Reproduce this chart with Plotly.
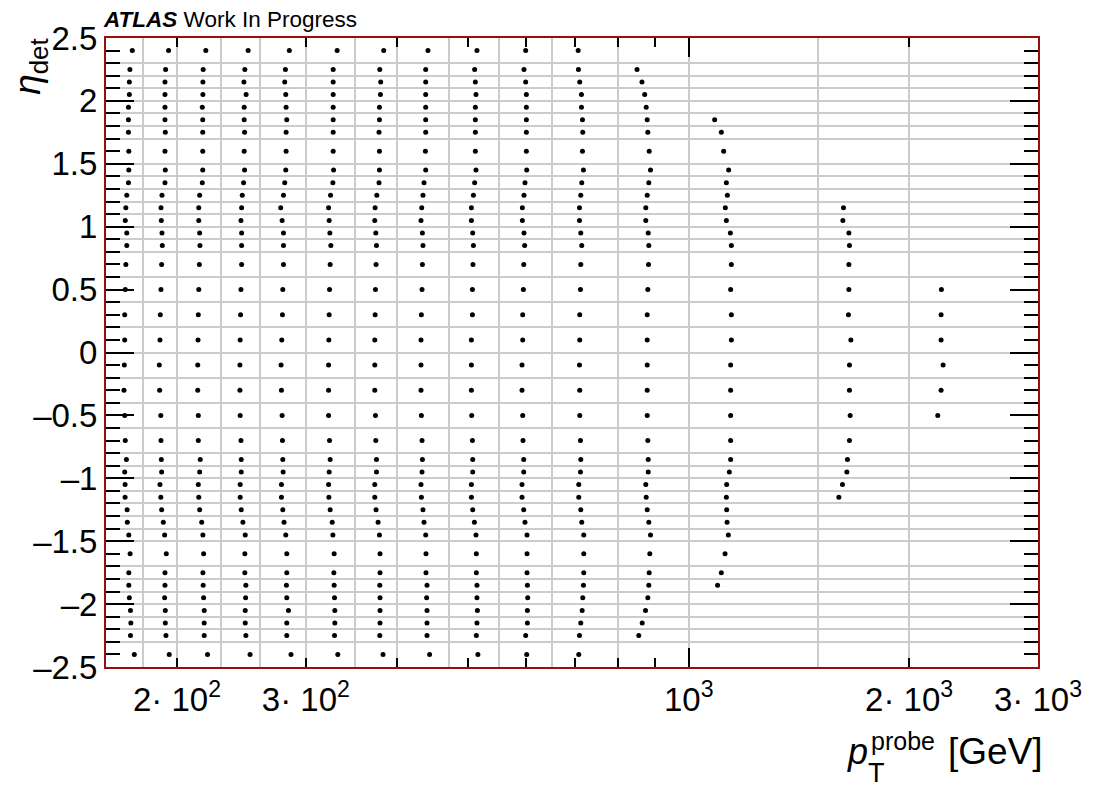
import math
import plotly.graph_objects as go

# ---------------- data ----------------
pt_edges = [160, 180, 200, 230, 260, 300, 350, 400, 470, 550, 650, 800, 1000, 1500, 2000, 3000]
eta_edges = [-2.5, -2.3, -2.2, -2.1, -2.0, -1.9, -1.8, -1.7, -1.5, -1.4, -1.3, -1.2, -1.1, -1.0,
             -0.9, -0.8, -0.6, -0.4, -0.2, 0.0, 0.2, 0.4, 0.6, 0.8, 0.9, 1.0, 1.1, 1.2, 1.3,
             1.4, 1.5, 1.7, 1.8, 1.9, 2.0, 2.1, 2.2, 2.3, 2.5]

eta_centers = [2.4, 2.25, 2.15, 2.05, 1.95, 1.85, 1.75, 1.6, 1.45, 1.35, 1.25, 1.15, 1.05, 0.95,
               0.85, 0.7, 0.5, 0.3, 0.1, -0.1, -0.3, -0.5, -0.7, -0.85, -0.95, -1.05, -1.15,
               -1.25, -1.35, -1.45, -1.6, -1.75, -1.85, -1.95, -2.05, -2.15, -2.25, -2.4]

N = None
pt_160_180 = [173.8, 172.5, 172.2, 172.2, 171.7, 171.7, 171.7, 171.9, 171.9, 171.7, 170.8, 170.3, 170.0,
              170.8, 170.8, 170.3, 170.0, 169.7, 169.7, 169.5, 169.3, 169.7, 170.0, 170.6, 169.7, 169.9,
              169.9, 171.0, 171.1, 171.9, 172.6, 171.9, 171.9, 172.2, 172.8, 173.0, 172.8, 174.9]
pt_180_200 = [194.8, 193.0, 192.6, 192.6, 192.6, 192.6, 192.8, 192.6, 192.8, 192.6, 190.8, 190.2, 190.4,
              190.8, 191.0, 190.6, 190.2, 189.8, 189.6, 189.2, 189.4, 190.1, 190.2, 190.4, 190.6, 189.6,
              190.1, 190.6, 191.6, 192.4, 193.4, 192.6, 192.6, 192.4, 192.8, 192.8, 193.2, 195.2]
pt_200_230 = [219.0, 217.2, 217.0, 217.0, 216.6, 216.9, 216.9, 216.9, 216.9, 216.6, 214.8, 214.2, 214.2,
              214.8, 215.0, 214.6, 214.2, 213.9, 213.7, 213.5, 213.5, 213.9, 213.9, 215.2, 214.8, 213.9,
              214.2, 214.8, 216.2, 217.0, 217.5, 217.0, 217.2, 217.5, 217.9, 217.9, 217.9, 220.2]
pt_230_260 = [250.2, 247.6, 246.9, 248.6, 247.1, 247.1, 247.4, 247.1, 247.4, 246.6, 245.6, 245.1, 244.6,
              245.1, 245.1, 245.1, 244.6, 244.3, 244.0, 243.8, 243.8, 244.0, 244.6, 244.8, 244.8, 244.0,
              244.0, 244.8, 246.1, 247.9, 247.6, 247.6, 248.4, 248.2, 247.9, 247.9, 248.4, 251.7]
pt_260_300 = [284.8, 281.3, 280.7, 281.6, 281.9, 282.5, 281.9, 281.9, 281.6, 280.7, 279.6, 277.2, 278.4,
              279.6, 279.6, 279.6, 279.0, 278.7, 278.1, 277.5, 277.8, 278.4, 278.7, 279.0, 279.3, 277.8,
              277.8, 279.0, 280.1, 281.6, 282.5, 282.5, 282.2, 282.5, 284.0, 282.5, 282.5, 286.3]
pt_300_350 = [331.0, 326.9, 326.9, 326.9, 326.9, 326.9, 326.9, 326.9, 327.3, 326.6, 324.2, 322.2, 322.8,
              323.5, 324.5, 323.8, 323.2, 322.8, 322.5, 322.2, 322.2, 322.2, 323.2, 323.8, 322.8, 322.2,
              322.5, 323.8, 325.9, 326.6, 327.9, 327.6, 327.9, 328.3, 328.6, 328.6, 328.3, 331.7]
pt_350_400 = [383.2, 378.5, 379.6, 379.3, 378.1, 378.1, 377.6, 378.1, 378.1, 377.6, 375.0, 373.0, 372.6,
              373.8, 374.6, 374.1, 373.4, 373.0, 372.6, 372.6, 372.6, 373.4, 373.8, 374.6, 374.6, 372.6,
              372.6, 374.1, 376.5, 378.1, 378.8, 378.8, 378.5, 378.8, 378.8, 378.8, 378.5, 382.4]
pt_400_470 = [440.4, 437.3, 437.3, 437.3, 437.3, 437.3, 437.3, 436.9, 437.3, 435.0, 433.6, 431.9, 430.9,
              432.8, 433.6, 432.8, 432.3, 431.4, 430.9, 430.9, 430.9, 431.4, 432.3, 432.8, 432.3, 430.9,
              431.4, 433.6, 435.0, 437.3, 437.7, 437.7, 439.1, 438.6, 439.1, 439.1, 439.1, 442.7]
pt_470_550 = [513.8, 510.1, 511.2, 512.2, 511.2, 511.2, 511.2, 511.2, 512.2, 510.1, 508.1, 504.9, 504.9,
              507.0, 508.1, 507.4, 506.5, 506.5, 504.9, 504.9, 504.9, 505.4, 506.5, 507.0, 507.0, 504.9,
              504.9, 507.0, 509.7, 512.2, 512.8, 512.8, 513.8, 513.8, 514.5, 513.8, 512.8, 515.3]
pt_550_650 = [598.9, 595.7, 598.9, 600.2, 600.2, 600.2, 600.2, 600.2, 600.8, 597.6, 595.7, 592.7, 592.7,
              595.7, 597.0, 595.2, 594.6, 593.3, 593.3, 592.0, 592.0, 593.3, 593.9, 595.2, 595.2, 592.0,
              592.0, 595.2, 597.6, 601.4, 601.4, 601.4, 602.1, 602.7, 602.1, 602.1, 598.9, 600.8]
pt_650_800 = [706.4, 707.0, 709.9, 713.7, 713.7, 716.0, 716.7, 716.0, 718.2, 714.4, 712.2, 709.3, 709.3,
              712.2, 714.4, 712.2, 711.5, 709.9, 709.9, 709.3, 709.9, 709.9, 711.5, 712.2, 711.5, 707.7,
              707.7, 712.2, 714.4, 718.9, 718.9, 718.9, 718.2, 716.7, 715.3, 712.2, 709.3, 707.7]
pt_800_1000 = [N, 850.1, 863.4, 870.8, 874.9, 877.7, 879.4, 883.2, 886.8, 882.1, 877.7, 873.8, 873.8,
               880.5, 882.1, 881.3, 879.4, 877.7, 877.7, 877.7, 877.7, 877.7, 879.4, 880.5, 880.5, 873.8,
               874.9, 877.7, 882.1, 886.8, 884.9, 883.2, 882.1, 879.4, 873.0, 864.0, 854.7, N]
pt_1000_1500 = [N, N, N, N, N, 1085.1, 1108.1, 1116.2, 1133.9, 1125.8, 1129.3, 1122.2, 1125.8,
                1140.0, 1143.6, 1143.6, 1141.0, 1143.6, 1143.6, 1141.0, 1141.0, 1141.0, 1141.0, 1141.0,
                1136.4, 1126.9, 1125.8, 1126.9, 1128.3, 1132.9, 1121.2, 1108.1, 1095.1, N, N, N, N, N]
pt_1500_2000 = [N, N, N, N, N, N, N, N, N, N, N, 1627.1, 1624.0, 1654.9, 1658.0, 1654.9, 1654.9,
                1652.8, 1665.3, 1658.0, 1658.0, 1661.7, 1658.0, 1647.6, 1644.5, 1621.9, 1603.7,
                N, N, N, N, N, N, N, N, N, N, N]
pt_2000_3000 = [N, N, N, N, N, N, N, N, N, N, N, N, N, N, N, N, 2213.9, 2211.8, 2211.8, 2225.8,
                2211.8, 2188.8, N, N, N, N, N, N, N, N, N, N, N, N, N, N, N, N]

columns = [pt_160_180, pt_180_200, pt_200_230, pt_230_260, pt_260_300, pt_300_350, pt_350_400,
           pt_400_470, pt_470_550, pt_550_650, pt_650_800, pt_800_1000, pt_1000_1500,
           pt_1500_2000, pt_2000_3000]

x_tickvals = [200, 300, 1000, 2000, 3000]
x_ticktext = ["2\u00b7 10<sup>2</sup>", "3\u00b7 10<sup>2</sup>", "10<sup>3</sup>",
              "2\u00b7 10<sup>3</sup>", "3\u00b7 10<sup>3</sup>"]
x_minor_tickvals = [400, 500, 600, 700, 800, 900]
x_long_ticks = [1000]
y_tickvals = [-2.5, -2.0, -1.5, -1.0, -0.5, 0.0, 0.5, 1.0, 1.5, 2.0, 2.5]
y_ticktext = ["\u20132.5", "\u20132", "\u20131.5", "\u20131", "\u20130.5", "0", "0.5", "1", "1.5", "2", "2.5"]

# ---------------- figure ----------------
OFF = 8                      # page body margin of the html page
W, H = 1094 - OFF, 787 - OFF
L, R, T, B = 106, 1038, 35, 667   # frame position on screen
FONT = "Liberation Sans, Arial, Helvetica, sans-serif"
FRAME = "#9a0d0d"


def px(xp):
    return (xp - L) / (R - L)


def py(yp):
    return (B - yp) / (B - T)


xs, ys = [], []
for col in columns:
    for eta, pt in zip(eta_centers, col):
        if pt is not None:
            xs.append(pt)
            ys.append(eta)

xr = [math.log10(pt_edges[0]), math.log10(pt_edges[-1])]
yr = [eta_edges[0], eta_edges[-1]]

fig = go.Figure()
fig.add_trace(go.Scatter(x=xs, y=ys, mode="markers",
                         marker=dict(color="black", size=5, line=dict(width=0)),
                         showlegend=False, hoverinfo="x+y"))
fig.add_trace(go.Scatter(x=[], y=[], xaxis="x2", yaxis="y2", showlegend=False))
fig.add_trace(go.Scatter(x=[], y=[], xaxis="x3", yaxis="y2", showlegend=False))

grid_style = dict(showgrid=True, gridcolor="#cccccc", gridwidth=2, ticks="",
                  showticklabels=False, showline=False, zeroline=False, tickmode="array")
tick_font = dict(family=FONT, size=33, color="black")

fig.update_layout(
    width=W, height=H,
    margin=dict(l=L - OFF, r=W + OFF - R, t=T - OFF, b=H + OFF - B, pad=0),
    paper_bgcolor="white", plot_bgcolor="white",
    xaxis=dict(type="log", range=xr, tickvals=pt_edges, **grid_style),
    yaxis=dict(range=yr, tickvals=eta_edges, **grid_style),
    xaxis2=dict(type="log", range=xr, overlaying="x", anchor="y2", side="bottom",
                tickmode="array", tickvals=x_tickvals, ticktext=x_ticktext,
                ticks="inside", ticklen=9, tickwidth=1.5, tickcolor="black",
                minor=dict(tickmode="array", tickvals=x_minor_tickvals, ticks="inside",
                           ticklen=9, tickwidth=1.5, tickcolor="black", showgrid=False),
                showline=True, linecolor=FRAME, linewidth=2, mirror="ticks",
                showgrid=False, zeroline=False, tickfont=tick_font, ticklabelstandoff=2),
    xaxis3=dict(type="log", range=xr, overlaying="x", anchor="y2", side="bottom",
                tickmode="array", tickvals=x_long_ticks, showticklabels=False,
                ticks="inside", ticklen=19, tickwidth=1.5, tickcolor="black",
                showline=True, linecolor=FRAME, linewidth=2, mirror="ticks",
                showgrid=False, zeroline=False),
    yaxis2=dict(range=yr, overlaying="y", anchor="x2", side="left",
                tickmode="array", tickvals=y_tickvals, ticktext=y_ticktext,
                ticks="inside", ticklen=28, tickwidth=1.5, tickcolor="black",
                minor=dict(dtick=0.1, tick0=0, ticks="inside", ticklen=14, tickwidth=1.5,
                           tickcolor="black", showgrid=False),
                showline=True, linecolor=FRAME, linewidth=2, mirror="ticks",
                showgrid=False, zeroline=False, tickfont=tick_font),
    annotations=[
        dict(xref="paper", yref="paper", x=px(102), y=py(35), xanchor="left", yanchor="bottom",
             yshift=5, borderpad=0, text="<b><i>ATLAS</i></b> Work In Progress", showarrow=False,
             font=dict(family=FONT, size=22.5, color="black")),
        dict(xref="paper", yref="paper", x=px(30), y=py(64), xanchor="center", yanchor="middle",
             text="<i>\u03b7</i><sub>det</sub>", textangle=-90, showarrow=False,
             font=dict(family=FONT, size=37, color="black")),
        dict(xref="paper", yref="paper", x=px(857), y=py(752), xanchor="center", yanchor="middle",
             text="<i>p</i>", showarrow=False, font=dict(family=FONT, size=36, color="black")),
        dict(xref="paper", yref="paper", x=px(903), y=py(741), xanchor="center", yanchor="middle",
             text="probe", showarrow=False, font=dict(family=FONT, size=25, color="black")),
        dict(xref="paper", yref="paper", x=px(876), y=py(774), xanchor="center", yanchor="middle",
             text="T", showarrow=False, font=dict(family=FONT, size=27, color="black")),
        dict(xref="paper", yref="paper", x=px(995), y=py(752), xanchor="center", yanchor="middle",
             text="[GeV]", showarrow=False, font=dict(family=FONT, size=37, color="black")),
    ],
)

fig.write_html("out.html")
